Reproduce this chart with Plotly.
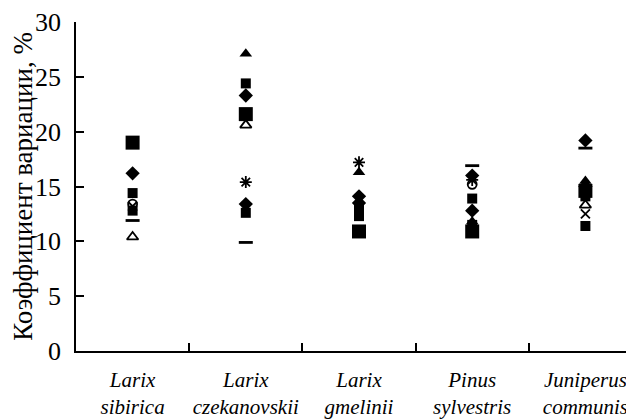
import plotly.graph_objects as go

categories = ["Larix sibirica", "Larix czekanovskii", "Larix gmelinii",
              "Pinus sylvestris", "Juniperus communis"]
tick_labels = ["<i>Larix</i><br><i>sibirica</i>",
               "<i>Larix</i><br><i>czekanovskii</i>",
               "<i>Larix</i><br><i>gmelinii</i>",
               "<i>Pinus</i><br><i>sylvestris</i>",
               "<i>Juniperus</i><br><i>communis</i>"]

# coefficient of variation (%) per trait, one value per species (None = absent)
big_square = [19.0, 21.6, 10.9, 10.9, 14.6]
square_a = [14.4, 24.4, 12.3, 13.9, 11.4]
square_b = [12.8, 12.6, 13.0, 11.5, 14.1]
diamond_a = [16.2, 23.3, 14.1, 12.8, 19.2]
diamond_b = [None, 13.4, 13.5, 16.0, 15.0]
triangle = [None, 27.1, 16.3, 11.8, 15.5]
triangle_open = [10.4, 20.6, None, None, 13.3]
asterisk = [None, 15.4, 17.2, 15.6, None]
cross = [13.2, None, None, None, 12.5]
dash = [11.9, 9.9, None, 16.9, 18.5]
circle_open = [13.4, None, None, 15.2, None]

series = [
    (big_square, "square", 14, 0),
    (square_a, "square", 10, 0),
    (square_b, "square", 10, 0),
    (diamond_a, "diamond", 11, 0),
    (diamond_b, "diamond", 11, 0),
    (triangle, "triangle-up", 11, 0),
    (triangle_open, "triangle-up-open", 10, 1.8),
    (asterisk, "asterisk-open", 10, 1.8),
    (cross, "x-thin-open", 9, 1.8),
    (dash, "line-ew-open", 10, 2.8),
    (circle_open, "circle-open", 9, 1.8),
]

SERIF = "Liberation Serif"

fig = go.Figure()
for vals, sym, size, lw in series:
    fig.add_trace(go.Scatter(
        x=categories, y=vals, mode="markers",
        marker=dict(symbol=sym, size=size, color="black",
                    line=dict(color="black", width=lw)),
        showlegend=False, cliponaxis=False,
    ))

fig.update_layout(
    width=634, height=420,
    margin=dict(l=68, r=0, t=14, b=77),
    paper_bgcolor="white", plot_bgcolor="white",
    font=dict(family=SERIF, color="black"),
)
fig.update_xaxes(
    type="category", categoryorder="array", categoryarray=categories,
    range=[-0.5, 4.5], automargin=False,
    tickmode="array", tickvals=categories, ticktext=tick_labels,
    tickangle=0,
    tickson="boundaries", ticks="inside", ticklen=8, tickwidth=1.5,
    tickcolor="black", tickfont=dict(size=21, family=SERIF),
    ticklabelstandoff=9,
    showline=True, linecolor="black", linewidth=1.5,
    showgrid=False, zeroline=False,
)
fig.update_yaxes(
    range=[0, 30], tickvals=[0, 5, 10, 15, 20, 25, 30], automargin=False,
    ticks="inside", ticklen=8, tickwidth=1.5, tickcolor="black",
    tickfont=dict(size=26, family=SERIF),
    ticklabelstandoff=8,
    showline=True, linecolor="black", linewidth=1.5,
    showgrid=False, zeroline=False,
    title=dict(text="Коэффициент вариации, %",
               font=dict(size=27, family=SERIF), standoff=6),
)

fig.write_html("out.html")
